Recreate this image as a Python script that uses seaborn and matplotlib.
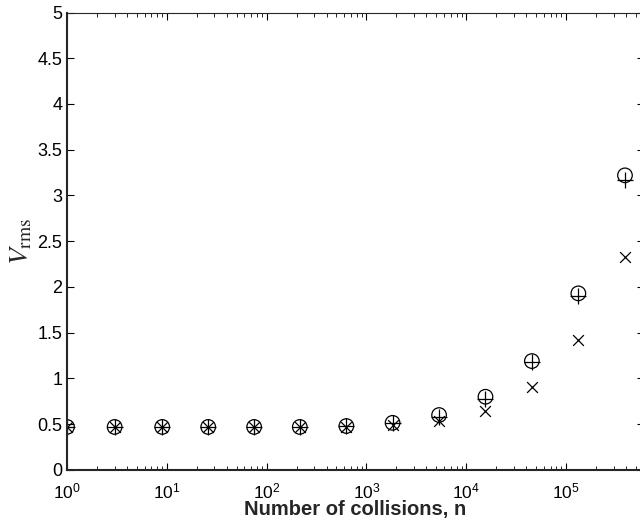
import numpy as np
import pandas as pd
import matplotlib
matplotlib.use("Agg")
import matplotlib.pyplot as plt
import seaborn as sns
from matplotlib.ticker import FormatStrFormatter, MultipleLocator, LogLocator

# Data
n_collisions = [1, 3, 9, 26, 75, 215, 630, 1830, 5350, 15600, 45500, 133000, 390000]
v_circle = [0.47, 0.47, 0.47, 0.47, 0.47, 0.47, 0.48, 0.515, 0.60, 0.80, 1.19, 1.93, 3.22]
v_plus = [0.47, 0.47, 0.47, 0.47, 0.47, 0.47, 0.48, 0.51, 0.58, 0.78, 1.18, 1.90, 3.17]
v_cross = [0.47, 0.47, 0.47, 0.47, 0.47, 0.47, 0.47, 0.49, 0.53, 0.64, 0.91, 1.42, 2.33]

df = pd.DataFrame({
    "n": n_collisions,
    "circle": v_circle,
    "plus": v_plus,
    "cross": v_cross,
})

sns.set_style("ticks")
plt.rcParams["font.family"] = ["Liberation Sans", "DejaVu Sans"]
plt.rcParams["mathtext.fontset"] = "stix"

fig = plt.figure(figsize=(6.4, 5.21), dpi=100)
ax = fig.add_axes([0.1047, 0.098, 0.901, 0.878])

sns.scatterplot(data=df, x="n", y="circle", marker="o", s=110,
                facecolors="none", edgecolor="black", linewidth=0.9, ax=ax)
sns.scatterplot(data=df, x="n", y="plus", marker="+", s=130,
                color="black", linewidth=0.9, ax=ax)
sns.scatterplot(data=df, x="n", y="cross", marker="x", s=60,
                color="black", linewidth=0.9, ax=ax)

ax.set_xscale("log")
ax.set_xlim(1, 6e5)
ax.set_ylim(0, 5)
ax.yaxis.set_major_locator(MultipleLocator(0.5))
ax.yaxis.set_major_formatter(FormatStrFormatter("%g"))
ax.xaxis.set_major_locator(LogLocator(base=10, numticks=12))
ax.xaxis.set_minor_locator(LogLocator(base=10, subs=np.arange(2, 10), numticks=12))

ax.tick_params(which="both", direction="in", top=True, right=True,
               labelsize=13, colors="black")
ax.tick_params(which="major", length=5, width=0.8)
ax.tick_params(which="minor", length=3, width=0.6)
ax.tick_params(axis="x", pad=8, labelsize=12.5)

for side in ["top", "right"]:
    ax.spines[side].set_linewidth(0.8)
for side in ["left", "bottom"]:
    ax.spines[side].set_linewidth(1.5)

ax.set_xlabel("Number of collisions, n", fontsize=14.5, fontweight="bold", labelpad=-1)
ax.set_ylabel(r"$V_{\mathrm{rms}}$", fontsize=20, labelpad=2)

fig.savefig("out.png", dpi=100)
